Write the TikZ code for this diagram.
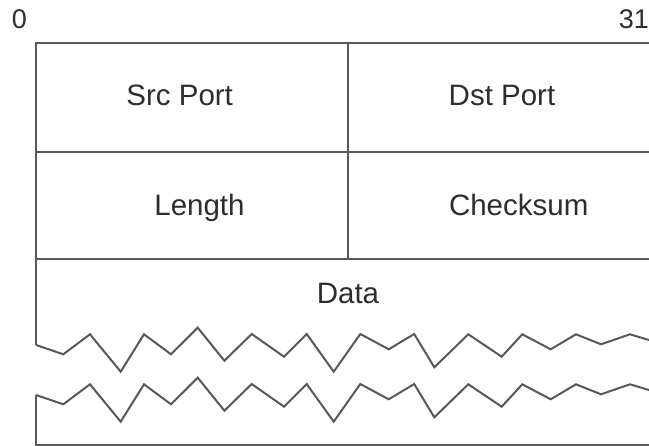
\documentclass[tikz,border=0pt]{standalone}
\usepackage{fontspec}
\setmainfont{Liberation Sans}
\definecolor{rule}{RGB}{88,88,88}
\definecolor{ink}{RGB}{45,45,45}
\begin{document}
\begin{tikzpicture}[x=1pt,y=-1pt,
  frame/.style={draw=rule,line width=2pt,line join=miter},
  field/.style={inner sep=0pt,anchor=base,text=ink,font=\fontsize{29.5}{30}\selectfont},
  bitno/.style={inner sep=0pt,anchor=base,text=ink,font=\fontsize{27}{28}\selectfont}]
\useasboundingbox (0,0) rectangle (649,446);
\clip (0,0) rectangle (649,446);

% bit numbers
\node[bitno] (b0)  at (19.5,29) {0};
\node[bitno] (b31) at (633.8,29) {31};

% header grid
\coordinate (tl) at (36,43);
\coordinate (tr) at (660,43);
\draw[frame] (tr) -- (tl) -- (36,345);
\draw[frame] (36,152) -- (660,152);
\draw[frame] (36,259.5) -- (660,259.5);
\draw[frame] (347.5,43) -- (347.5,259.5);
\draw[frame] (36,395) -- (36,445) -- (660,445);

% torn edges of the data area
\foreach \dy in {0,50}{
  \draw[frame] (36,345+\dy) -- (63.3,354.3+\dy) -- (90,334.3+\dy) -- (120.7,371.7+\dy)
    -- (144,334.3+\dy) -- (171,354.3+\dy) -- (197.7,327.7+\dy) -- (224.4,360.7+\dy)
    -- (251.7,334+\dy) -- (284,356.7+\dy) -- (306.7,334+\dy) -- (333.7,371.7+\dy)
    -- (360.3,334+\dy) -- (388.7,349.3+\dy) -- (414.2,334+\dy) -- (434.3,367.3+\dy)
    -- (468.3,334.3+\dy) -- (501.7,356.7+\dy) -- (522.3,334.3+\dy) -- (550.7,349.3+\dy)
    -- (576,334.3+\dy) -- (601,344.3+\dy) -- (630,334.3+\dy) -- (660,343.3+\dy);
}

% field labels
\node[field] (src)  at (179.7,106) {Src Port};
\node[field] (dst)  at (502,106)   {Dst Port};
\node[field] (len)  at (199.5,216) {Length};
\node[field] (chk)  at (518.7,216) {Checksum};
\node[field] (data) at (348,304)   {Data};
\end{tikzpicture}
\end{document}
